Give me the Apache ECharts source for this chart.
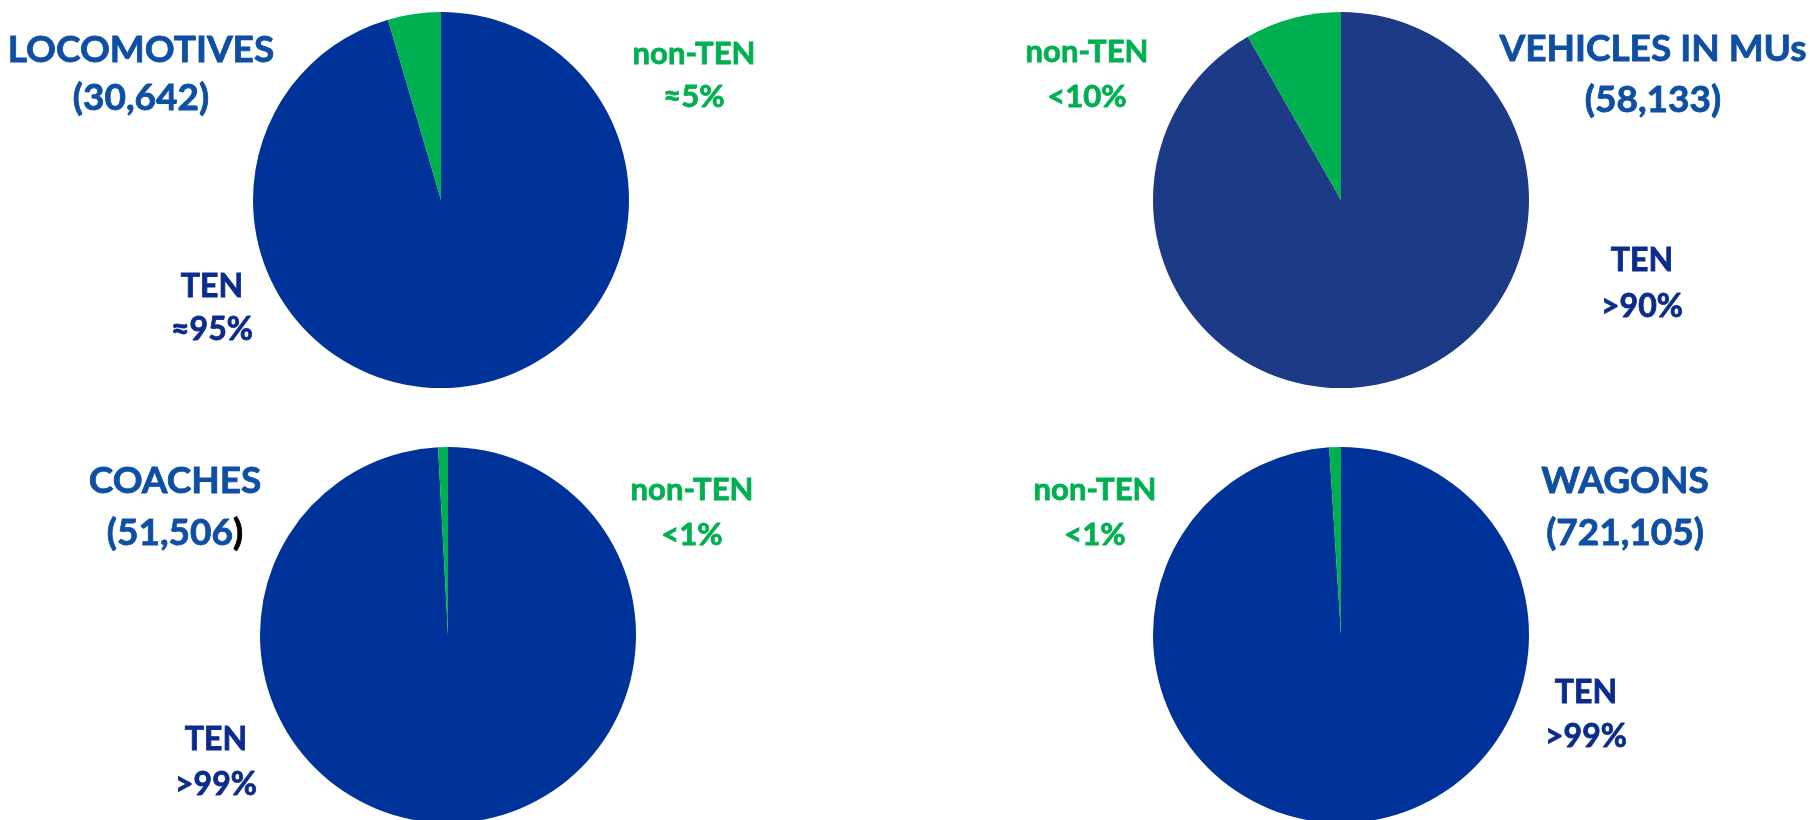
<!DOCTYPE html>
<html>
<head>
<meta charset="utf-8">
<script src="https://cdn.jsdelivr.net/npm/echarts@6/dist/echarts.min.js"></script>
<style>
html,body{margin:0;padding:0;background:#fff;}
#chart{width:1810px;height:820px;}
</style>
</head>
<body>
<div id="chart"></div>
<script>
// ---- data ----
const categories = ['TEN', 'non-TEN'];
const groups = ['LOCOMOTIVES', 'VEHICLES IN MUs', 'COACHES', 'WAGONS'];
const groupCounts = ['30,642', '58,133', '51,506', '721,105'];
const tenShare = [95.45, 91.75, 99.16, 99.0];
const nonTenShare = [4.55, 8.25, 0.84, 1.0];
const tenLabels = ['≈95%', '>90%', '>99%', '>99%'];
const nonTenLabels = ['≈5%', '<10%', '<1%', '<1%'];

// ---- layout / style ----
const FONT = 'Lato, "Open Sans", sans-serif';
const GREEN = '#00B050';
const TITLE_BLUE = '#0E4FA3';
const TEN_NAVY = '#0B2C8C';
const pieColors = ['#003399', '#1C3A85', '#003399', '#003399'];
const centers = [[441, 200], [1341, 200], [448, 635], [1341, 635]];
const radius = 188;
// label anchor positions: [title x, title y1, title y2, nonTEN x, y1, y2, TEN x, y1, y2]
const labelPos = [
  [141, 50, 98, 694, 54, 97, 212, 287, 330],
  [1653, 49, 100, 1087, 52, 97, 1642, 261, 307],
  [175, 481, 533, 692, 490, 535, 216, 740, 785],
  [1625, 481, 533, 1095, 490, 535, 1586, 693, 737]
];

const series = groups.map((g, i) => ({
  type: 'pie',
  name: g,
  center: centers[i],
  radius: radius,
  startAngle: 90,
  clockwise: true,
  animation: false,
  silent: true,
  label: { show: false },
  labelLine: { show: false },
  itemStyle: { borderWidth: 0 },
  data: [
    { name: categories[0], value: tenShare[i], itemStyle: { color: pieColors[i] } },
    { name: categories[1], value: nonTenShare[i], itemStyle: { color: GREEN } }
  ]
}));

function txt(x, y, text, color, size, rich) {
  const st = {
    text: text, x: x, y: y, fill: color,
    stroke: color, lineWidth: 0.8,
    font: 'bold ' + size + 'px ' + FONT,
    align: 'center', verticalAlign: 'middle'
  };
  if (rich) st.rich = rich;
  return { type: 'text', silent: true, style: st };
}

const graphics = [];
groups.forEach((g, i) => {
  const p = labelPos[i];
  graphics.push(txt(p[0], p[1], g, TITLE_BLUE, 37));
  if (i === 2) {
    graphics.push(txt(p[0], p[2], '{a|(' + groupCounts[i] + '}{b|)}', TITLE_BLUE, 37, {
      a: { fill: TITLE_BLUE, stroke: TITLE_BLUE, lineWidth: 0.8, font: 'bold 37px ' + FONT },
      b: { fill: '#000000', stroke: '#000000', lineWidth: 0.8, font: 'bold 37px ' + FONT }
    }));
  } else {
    graphics.push(txt(p[0], p[2], '(' + groupCounts[i] + ')', TITLE_BLUE, 37));
  }
  graphics.push(txt(p[3], p[4], categories[1], GREEN, 31));
  graphics.push(txt(p[3], p[5], nonTenLabels[i], GREEN, 31));
  graphics.push(txt(p[6], p[7], categories[0], TEN_NAVY, 32));
  graphics.push(txt(p[6], p[8], tenLabels[i], TEN_NAVY, 32));
});

const chart = echarts.init(document.getElementById('chart'), null, { renderer: 'canvas' });
chart.setOption({
  backgroundColor: '#ffffff',
  animation: false,
  series: series,
  graphic: { elements: graphics }
});
</script>
</body>
</html>
